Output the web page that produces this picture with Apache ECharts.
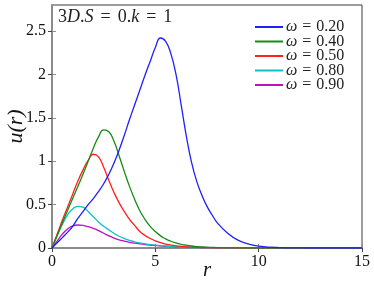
<!DOCTYPE html>
<html>
<head>
<meta charset="utf-8">
<script src="https://cdn.jsdelivr.net/npm/echarts@6/dist/echarts.min.js"></script>
<style>html,body{margin:0;padding:0;background:#fff}#c{width:374px;height:283px}</style>
</head>
<body>
<div id="c"></div>
<script>
const rVals = [0,0.25,0.5,0.75,1,1.25,1.5,1.75,2,2.25,2.5,2.75,3,3.25,3.5,3.75,4,4.25,4.5,4.75,5,5.25,5.5,5.75,6,6.25,6.5,6.75,7,7.25,7.5,7.75,8,8.5,9,9.5,10,11,12,13,14,15];
const u020 = [0,0.06,0.12,0.18,0.25,0.34,0.42,0.50,0.57,0.65,0.74,0.85,0.98,1.13,1.30,1.48,1.65,1.82,1.99,2.15,2.31,2.42,2.38,2.24,2.00,1.65,1.29,0.99,0.77,0.61,0.48,0.38,0.29,0.17,0.09,0.047,0.022,0.005,0.001,0,0,0];
const u040 = [0,0.145,0.29,0.43,0.57,0.71,0.85,1.00,1.15,1.28,1.36,1.34,1.23,1.06,0.88,0.71,0.56,0.43,0.33,0.25,0.19,0.14,0.105,0.078,0.058,0.043,0.032,0.023,0.017,0.012,0.009,0.007,0.005,0.003,0.001,0,0,0,0,0,0,0];
const u050 = [0,0.16,0.32,0.47,0.62,0.77,0.90,1.01,1.08,1.05,0.93,0.78,0.64,0.52,0.42,0.33,0.26,0.19,0.145,0.11,0.082,0.062,0.046,0.034,0.025,0.018,0.013,0.01,0.007,0.005,0.004,0.003,0.002,0.001,0,0,0,0,0,0,0,0];
const u080 = [0,0.14,0.27,0.38,0.45,0.48,0.47,0.42,0.36,0.30,0.25,0.21,0.17,0.135,0.11,0.088,0.07,0.058,0.048,0.04,0.033,0.027,0.022,0.018,0.015,0.012,0.01,0.008,0.006,0.005,0.004,0.003,0.003,0.002,0.001,0,0,0,0,0,0,0];
const u090 = [0,0.08,0.16,0.22,0.255,0.265,0.26,0.245,0.225,0.20,0.17,0.14,0.115,0.095,0.08,0.066,0.055,0.047,0.04,0.034,0.029,0.024,0.02,0.017,0.014,0.012,0.01,0.008,0.007,0.006,0.005,0.004,0.003,0.002,0.001,0,0,0,0,0,0,0];
const seriesNames = ['0.20','0.40','0.50','0.80','0.90'];
const seriesVals = [u020,u040,u050,u080,u090];
const colors = ['#1f1fff','#168c16','#ff2020','#10c0c0','#c010c0'];
const xTicks = [0,5,10,15];
const yTicks = [0,0.5,1,1.5,2,2.5];

const serif = 'Liberation Serif';
const chart = echarts.init(document.getElementById('c'));
const axisGray = '#8c8c8c';
const rs = (extra) => Object.assign({fontFamily:serif,fontSize:16,color:'#222',lineHeight:14.5}, extra||{});
chart.setOption({
  animation:false,
  grid:{left:52,right:12,top:5,bottom:35,show:true,borderColor:'#3a3a3a',borderWidth:1,outerBoundsMode:'none',containLabel:false},
  legend:{
    orient:'vertical', left:255, top:19, padding:0, itemWidth:28, itemHeight:2, itemGap:-1.5, icon:'rect',
    data: seriesNames.map(n=>'ω = '+n),
    textStyle:{fontFamily:serif,fontSize:16,color:'#222',lineHeight:14.5,padding:[0,0,0,-2],
      rich:{i:rs({fontStyle:'italic'}),e:rs({padding:[0,5,0,5]}),n:rs()}},
    formatter: name => '{i|ω}{e|=}{n|'+name.slice(4)+'}'
  },
  xAxis:[{
    type:'value',min:0,max:15,interval:5,
    name:'r',nameLocation:'middle',nameGap:12,nameMoveOverlap:false,
    nameTextStyle:{fontFamily:serif,fontStyle:'italic',fontSize:21,color:'#111'},
    axisLine:{show:true,onZero:false,lineStyle:{color:axisGray,width:2}},
    axisTick:{show:true,inside:true,length:4,lineStyle:{color:axisGray}},
    axisLabel:{margin:6,fontFamily:serif,fontSize:16,color:'#111',customValues:xTicks},
    splitLine:{show:false}
  },{
    type:'value',min:0,max:15,interval:5,position:'top',
    axisLine:{show:false},
    axisTick:{show:true,inside:true,length:4,lineStyle:{color:'#444'}},
    axisLabel:{show:false},splitLine:{show:false}
  }],
  yAxis:[{
    type:'value',min:0,max:2.8,interval:0.5,
    name:'u(r)',nameLocation:'middle',nameGap:25,nameRotate:90,nameMoveOverlap:false,
    nameTextStyle:{fontFamily:serif,fontStyle:'italic',fontSize:22,color:'#111'},
    axisLine:{show:true,onZero:false,lineStyle:{color:axisGray,width:2}},
    axisTick:{show:true,inside:true,length:4,lineStyle:{color:axisGray},customValues:yTicks},
    axisLabel:{margin:6,fontFamily:serif,fontSize:16,color:'#111',customValues:yTicks},
    splitLine:{show:false}
  },{
    type:'value',min:0,max:2.8,interval:0.5,position:'right',
    axisLine:{show:false},
    axisTick:{show:true,inside:true,length:4,lineStyle:{color:'#444'},customValues:yTicks},
    axisLabel:{show:false},splitLine:{show:false}
  }],
  graphic:[{
    type:'text', left:58, top:8,
    style:{
      text:'{n|3}{i|D}{n|.}{i|S}{e|=}{n|0.}{i|k}{e|=}{n|1}',
      rich:{
        n:{fontFamily:serif,fontSize:18,fill:'#222'},
        i:{fontFamily:serif,fontSize:18,fontStyle:'italic',fill:'#222'},
        e:{fontFamily:serif,fontSize:18,fill:'#222',padding:[0,7,0,7]}
      }
    }
  }],
  series: seriesVals.map((vals,i)=>({
    name:'ω = '+seriesNames[i], type:'line', smooth:true, symbol:'none',
    xAxisIndex:0,yAxisIndex:0,
    lineStyle:{color:colors[i],width:1.3}, itemStyle:{color:colors[i]},
    data: rVals.map((r,j)=>[r,vals[j]])
  })).reverse()
});
</script>
</body>
</html>
